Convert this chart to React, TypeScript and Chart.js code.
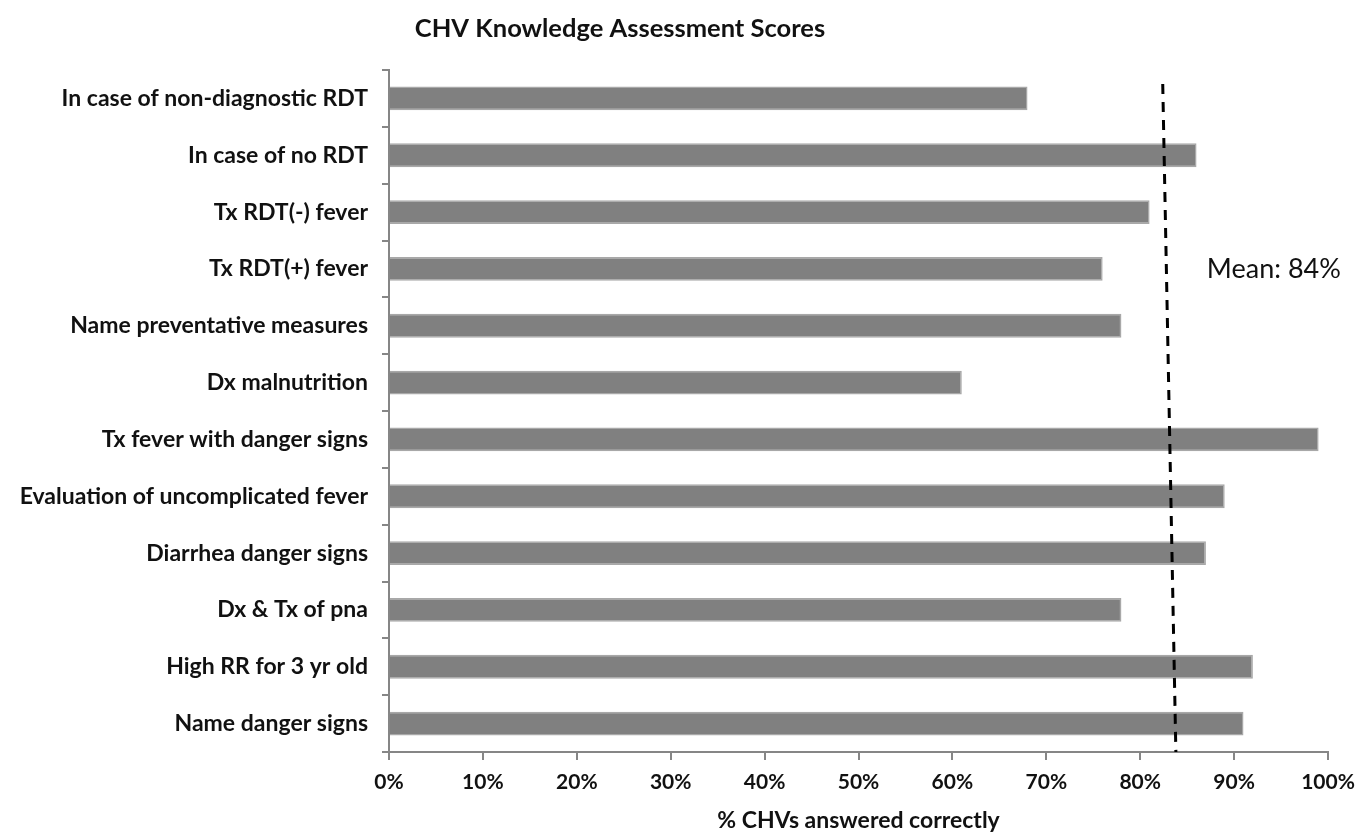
import React, { useEffect, useRef } from "react";
import { Chart, registerables } from "chart.js";

Chart.register(...registerables);

const categories = [
  "In case of non-diagnostic RDT",
  "In case of no RDT",
  "Tx RDT(-) fever",
  "Tx RDT(+) fever",
  "Name preventative measures",
  "Dx malnutrition",
  "Tx fever with danger signs",
  "Evaluation of uncomplicated fever",
  "Diarrhea danger signs",
  "Dx & Tx of pna",
  "High RR for 3 yr old",
  "Name danger signs",
];
const percentCorrect = [68, 86, 81, 76, 78, 61, 99, 89, 87, 78, 92, 91];
const meanLineEnds = [82.4, 83.8]; // hand-drawn dashed line: top, bottom (in %)
const meanLabel = "Mean: 84%";
const titleText = "CHV Knowledge Assessment Scores";
const xAxisTitle = "% CHVs answered correctly";

const FONT = "Lato, 'Noto Sans', sans-serif";

export default function App() {
  const ref = useRef<HTMLCanvasElement | null>(null);

  useEffect(() => {
    if (!ref.current) return;
    const overlay = {
      id: "overlay",
      afterDatasetsDraw(chart: any) {
        const { ctx, chartArea, scales } = chart;
        const xs = scales.x;
        const ys = scales.y;
        ctx.save();
        // dashed mean line
        ctx.strokeStyle = "#000";
        ctx.lineWidth = 3;
        ctx.setLineDash([10, 8]);
        ctx.beginPath();
        ctx.moveTo(xs.getPixelForValue(meanLineEnds[0]), chartArea.top + 14);
        ctx.lineTo(xs.getPixelForValue(meanLineEnds[1]), chartArea.bottom);
        ctx.stroke();
        ctx.setLineDash([]);
        // mean label
        ctx.fillStyle = "#111";
        ctx.font = `27px ${FONT}`;
        ctx.textAlign = "left";
        ctx.textBaseline = "middle";
        ctx.fillText(meanLabel, xs.getPixelForValue(87.1), ys.getPixelForValue(3));
        // title
        ctx.font = `bold 25.5px ${FONT}`;
        ctx.textAlign = "center";
        ctx.fillText(titleText, 620, 29);
        ctx.restore();
      },
    };

    const chart = new Chart(ref.current, {
      type: "bar",
      data: {
        labels: categories,
        datasets: [
          {
            data: percentCorrect,
            backgroundColor: "#808080",
            borderColor: "#a8a8a8",
            borderWidth: 1.5,
            barPercentage: 0.42,
            categoryPercentage: 1,
          },
        ],
      },
      options: {
        indexAxis: "y",
        animation: false,
        responsive: false,
        layout: { padding: { top: 70, right: 42, left: 0, bottom: 0 } },
        plugins: {
          legend: { display: false },
          title: { display: false },
          tooltip: { enabled: false },
        },
        scales: {
          x: {
            min: 0,
            max: 100,
            ticks: {
              stepSize: 10,
              color: "#111",
              padding: 10,
              font: { family: FONT, size: 21, weight: "bold" },
              callback: (v: any) => `${v}%`,
            },
            grid: {
              drawOnChartArea: false,
              drawTicks: true,
              tickLength: 8,
              color: "#868686",
              lineWidth: 2,
            },
            border: { display: true, color: "#868686", width: 2 },
            title: {
              display: true,
              text: xAxisTitle,
              color: "#111",
              font: { family: FONT, size: 23, weight: "bold" },
              padding: { top: 4, bottom: 0 },
            },
            afterFit: (s: any) => {
              s.height = 82;
            },
          },
          y: {
            ticks: {
              color: "#111",
              padding: 14,
              font: { family: FONT, size: 23, weight: "bold" },
            },
            grid: {
              drawOnChartArea: false,
              drawTicks: true,
              tickLength: 7,
              color: "#868686",
              lineWidth: 2,
              offset: true,
            },
            border: { display: true, color: "#868686", width: 2 },
            afterFit: (s: any) => {
              s.width = 389;
            },
          },
        },
      },
      plugins: [overlay],
    });
    return () => chart.destroy();
  }, []);

  return (
    <div style={{ position: "fixed", left: 0, top: 0, width: 1370, height: 834, background: "#fff" }}>
      <canvas ref={ref} width={1370} height={834} style={{ display: "block" }} />
    </div>
  );
}
